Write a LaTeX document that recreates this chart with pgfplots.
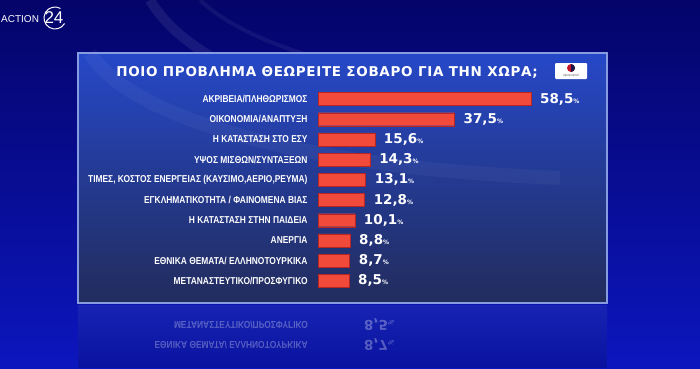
\documentclass[border=0pt]{standalone}
\usepackage{pgfplots}
\pgfplotsset{compat=1.18}
\usepackage{fontspec}
\setmainfont{Liberation Sans}
\newfontfamily\condfont[FakeStretch=0.84]{Liberation Sans}
\newfontfamily\titlefont[LetterSpace=5]{DejaVu Sans}
\newfontfamily\valfont{DejaVu Sans}
\definecolor{bgtop}{RGB}{4,4,105}
\definecolor{bgbot}{RGB}{12,22,190}
\definecolor{paneltop}{RGB}{38,72,200}
\definecolor{panelbot}{RGB}{34,44,92}
\definecolor{panelborder}{RGB}{135,155,225}
\definecolor{barfill}{RGB}{242,74,58}
\definecolor{refl}{RGB}{28,44,215}
\definecolor{logored}{RGB}{200,20,40}
\definecolor{logonavy}{RGB}{30,20,70}
\begin{document}
\begin{tikzpicture}[x=1pt,y=1pt]
\useasboundingbox (0,0) rectangle (700,368);
\clip (0,0) rectangle (700,368);
% background
\fill[top color=bgtop, bottom color=bgbot] (0,0) rectangle (700,368);
\draw[white, opacity=0.08, line width=10pt] (150,368) .. controls (190,300) and (320,250) .. (520,235);
\draw[white, opacity=0.06, line width=4pt] (200,368) .. controls (250,320) and (380,280) .. (600,270);
% reflection area under panel
\fill[top color=refl, bottom color=bgbot, opacity=0.8] (78,0) rectangle (607,63);
% panel
\fill[top color=paneltop, bottom color=panelbot] (78,65) rectangle (607,315);
\draw[white, opacity=0.04, line width=14pt] (90,315) .. controls (130,250) and (300,200) .. (560,190);
\draw[panelborder, line width=2pt] (78,65) rectangle (607,315);
% title
\node[text=white, font=\titlefont\bfseries\fontsize{13.5}{15}\selectfont] at (327,296) {ΠΟΙΟ ΠΡΟΒΛΗΜΑ ΘΕΩΡΕΙΤΕ ΣΟΒΑΡΟ ΓΙΑ ΤΗΝ ΧΩΡΑ;};
% OpinionPoll logo
\fill[white, rounded corners=1pt] (555,289) rectangle (587,305);
\fill[logored] (571,300) circle (4);
\fill[logonavy] (571,296) arc (-90:90:4) -- cycle;
\node[font=\fontsize{3}{3}\selectfont, text=black!70, inner sep=0pt] at (571,292.5) {OpinionPoll};
% ACTION 24 logo
\node[anchor=west, text=white, font=\fontsize{10}{10}\selectfont, inner sep=0pt] at (1,349) {ACTION};
\node[text=white, font=\fontsize{17}{17}\selectfont, inner sep=0pt] at (54,350) {24};
\draw[white, line width=1pt] (55,350) ++(60:11) arc (60:330:11);
% reflected text
\begin{scope}[opacity=0.3]
\node[yscale=-1, anchor=east, inner sep=0pt, text=white, font=\condfont\bfseries\fontsize{10}{10}\selectfont] at (308,43) {ΜΕΤΑΝΑΣΤΕΥΤΙΚΟ/ΠΡΟΣΦΥΓΙΚΟ};
\node[yscale=-1, anchor=east, inner sep=0pt, text=white, font=\condfont\bfseries\fontsize{10}{10}\selectfont] at (308,23) {ΕΘΝΙΚΑ ΘΕΜΑΤΑ/ ΕΛΛΗΝΟΤΟΥΡΚΙΚΑ};
\node[yscale=-1, anchor=west, inner sep=0pt, text=white, font=\valfont\bfseries\fontsize{13.5}{13.5}\selectfont] at (364,43) {8,5{\fontsize{6}{6}\selectfont\%}};
\node[yscale=-1, anchor=west, inner sep=0pt, text=white, font=\valfont\bfseries\fontsize{13.5}{13.5}\selectfont] at (364,23) {8,7{\fontsize{6}{6}\selectfont\%}};
\end{scope}
\begin{axis}[
  at={(318pt,279.1pt)}, anchor=north west,
  x=3.64pt, y=20.2pt, y dir=reverse,
  xmin=0, xmax=75, ymin=-0.5, ymax=9.5,
  xbar, bar width=13pt,
  clip=false,
  axis line style={draw=none}, tick style={draw=none},
  xtick=\empty,
  ytick={0,1,2,3,4,5,6,7,8,9},
  yticklabels={{ΑΚΡΙΒΕΙΑ/ΠΛΗΘΩΡΙΣΜΟΣ},{ΟΙΚΟΝΟΜΙΑ/ΑΝΑΠΤΥΞΗ},{Η ΚΑΤΑΣΤΑΣΗ ΣΤΟ ΕΣΥ},{ΥΨΟΣ ΜΙΣΘΩΝ/ΣΥΝΤΑΞΕΩΝ},{ΤΙΜΕΣ, ΚΟΣΤΟΣ ΕΝΕΡΓΕΙΑΣ (ΚΑΥΣΙΜΟ,ΑΕΡΙΟ,ΡΕΥΜΑ)},{ΕΓΚΛΗΜΑΤΙΚΟΤΗΤΑ / ΦΑΙΝΟΜΕΝΑ ΒΙΑΣ},{Η ΚΑΤΑΣΤΑΣΗ ΣΤΗΝ ΠΑΙΔΕΙΑ},{ΑΝΕΡΓΙΑ},{ΕΘΝΙΚΑ ΘΕΜΑΤΑ/ ΕΛΛΗΝΟΤΟΥΡΚΙΚΑ},{ΜΕΤΑΝΑΣΤΕΥΤΙΚΟ/ΠΡΟΣΦΥΓΙΚΟ}},
  yticklabel style={text=white, font=\condfont\bfseries\fontsize{10}{10}\selectfont, inner sep=0pt, xshift=-6pt},
  point meta=x,
  nodes near coords={\pgfmathprintnumber[fixed,fixed zerofill,precision=1,use comma,assume math mode=true]{\pgfplotspointmeta}{\fontsize{6}{6}\selectfont\%}},
  nodes near coords align={horizontal},
  every node near coord/.append style={text=white, font=\valfont\bfseries\fontsize{13.5}{13.5}\selectfont, anchor=west, inner sep=0pt, xshift=9pt},
]
\addplot[draw={rgb:red,5;green,1;blue,1}, fill=barfill, line width=0.4pt] coordinates {
(58.5,0) (37.5,1) (15.6,2) (14.3,3) (13.1,4) (12.8,5) (10.1,6) (8.8,7) (8.7,8) (8.5,9)};
\end{axis}
\end{tikzpicture}
\end{document}
